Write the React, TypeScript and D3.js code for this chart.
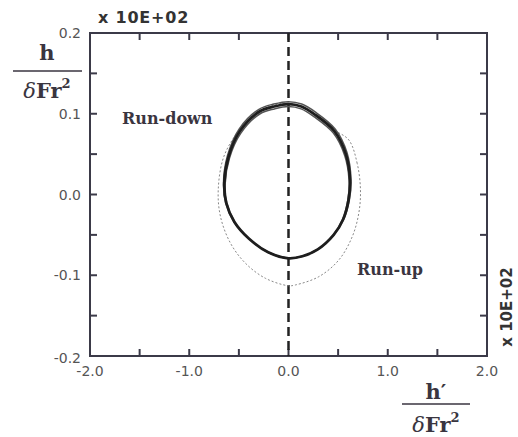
import React from "react";
import * as d3 from "d3";

// loop points (h', h), both in units of 10E+02
const loopMain: [number, number][] = [
  [0.62, 0.018], [0.578, 0.05], [0.462, 0.0786], [0.266, 0.099], [0.13, 0.109],
  [0.0, 0.112], [-0.145, 0.109], [-0.292, 0.1028], [-0.489, 0.0786], [-0.605, 0.0464],
  [-0.647, 0.0139], [-0.627, -0.0105], [-0.545, -0.034], [-0.4, -0.0545], [-0.205, -0.0715],
  [0.0, -0.079], [0.14, -0.0765], [0.295, -0.068], [0.455, -0.05], [0.55, -0.031],
  [0.605, -0.0068],
];
const loopHigh: [number, number][] = [
  [0.63, 0.018], [0.589, 0.052], [0.472, 0.081], [0.272, 0.102], [0.133, 0.112],
  [0.0, 0.115], [-0.148, 0.112], [-0.298, 0.1055], [-0.498, 0.081], [-0.615, 0.048],
  [-0.655, 0.014], [-0.632, -0.011], [-0.547, -0.0345], [-0.4, -0.0545], [-0.205, -0.0715],
  [0.0, -0.079], [0.14, -0.0765], [0.295, -0.068], [0.457, -0.05], [0.555, -0.031],
  [0.613, -0.0068],
];
const loopLow: [number, number][] = [
  [0.61, 0.018], [0.567, 0.048], [0.452, 0.076], [0.26, 0.096], [0.127, 0.106],
  [0.0, 0.109], [-0.142, 0.106], [-0.286, 0.1], [-0.48, 0.076], [-0.595, 0.045],
  [-0.638, 0.0135], [-0.622, -0.0105], [-0.543, -0.034], [-0.4, -0.0545], [-0.205, -0.0715],
  [0.0, -0.079], [0.14, -0.0765], [0.295, -0.068], [0.452, -0.05], [0.545, -0.031],
  [0.598, -0.0068],
];
const loopRunUp: [number, number][] = [
  [0.725, 0.0056], [0.692, 0.0386], [0.608, 0.0675], [0.46, 0.08], [0.262, 0.1],
  [0.0, 0.113], [-0.3, 0.103], [-0.5, 0.079], [-0.652, 0.0468], [-0.708, 0.0056],
  [-0.685, -0.0275], [-0.584, -0.0604], [-0.433, -0.0852], [-0.232, -0.1038], [0.0, -0.113],
  [0.07, -0.112], [0.305, -0.1018], [0.507, -0.0811], [0.642, -0.0523], [0.708, -0.0233],
];

const xTicks = [-2.0, -1.5, -1.0, -0.5, 0.0, 0.5, 1.0, 1.5, 2.0];
const xLabels = [-2.0, -1.0, 0.0, 1.0, 2.0];
const yTicks = [-0.2, -0.15, -0.1, -0.05, 0.0, 0.05, 0.1, 0.15, 0.2];
const yLabels = [-0.2, -0.1, 0.0, 0.1, 0.2];

const W = 518, H = 437;
const L = 90, R = 487, T = 33, B = 356;

export default function App() {
  const x = d3.scaleLinear().domain([-2, 2]).range([L, R]);
  const y = d3.scaleLinear().domain([-0.2, 0.2]).range([B, T]);
  const line = d3.line<[number, number]>()
    .x(d => x(d[0])).y(d => y(d[1]))
    .curve(d3.curveCatmullRomClosed.alpha(0.5));

  const axisColor = "#3b3a48";
  const labelColor = "#555";
  const textColor = "#3a3540";
  const tk = 7;
  const sans = "'DejaVu Sans', Verdana, sans-serif";
  const serif = "'DejaVu Serif', 'Liberation Serif', serif";

  return (
    <svg width={W} height={H} style={{ position: "absolute", left: 0, top: 0, background: "#fff" }}>
      {/* frame */}
      <rect x={L} y={T} width={R - L} height={B - T} fill="none" stroke={axisColor} strokeWidth={2} />
      {xTicks.slice(1, -1).map(v => (
        <g key={"xt" + v} stroke={axisColor} strokeWidth={2}>
          <line x1={x(v)} x2={x(v)} y1={B} y2={B - tk} />
          <line x1={x(v)} x2={x(v)} y1={T} y2={T + tk} />
        </g>
      ))}
      {yTicks.slice(1, -1).map(v => (
        <g key={"yt" + v} stroke={axisColor} strokeWidth={2}>
          <line x1={L} x2={L + tk} y1={y(v)} y2={y(v)} />
          <line x1={R} x2={R - tk} y1={y(v)} y2={y(v)} />
        </g>
      ))}
      {xLabels.map(v => (
        <text key={"xl" + v} x={x(v)} y={B + 20} textAnchor="middle" fontFamily={sans}
          fontSize={14} fill={labelColor}>{v.toFixed(1)}</text>
      ))}
      {yLabels.map(v => (
        <text key={"yl" + v} x={L - 9} y={y(v) + (v === -0.2 ? 7 : 5)} textAnchor="end" fontFamily={sans}
          fontSize={14} fill={labelColor}>{v.toFixed(1)}</text>
      ))}

      {/* dashed zero line */}
      <line x1={x(0)} x2={x(0)} y1={T} y2={B} stroke="#222" strokeWidth={2.5} strokeDasharray="9,5" />

      {/* run-up dotted loop */}
      <path d={line(loopRunUp) ?? ""} fill="none" stroke="#888" strokeWidth={1} strokeDasharray="2,2" />
      {/* run-down loops */}
      <path d={line(loopHigh) ?? ""} fill="none" stroke="#555" strokeWidth={1.5} />
      <path d={line(loopLow) ?? ""} fill="none" stroke="#555" strokeWidth={1.5} />
      <path d={line(loopMain) ?? ""} fill="none" stroke="#1e1e1e" strokeWidth={2.8} />

      <text x={122} y={124} fontFamily={serif} fontWeight="bold" fontSize={16} fill={textColor}>Run-down</text>
      <text x={357} y={275} fontFamily={serif} fontWeight="bold" fontSize={16} fill={textColor}>Run-up</text>

      {/* scale notes */}
      <text x={98} y={23} fontFamily={sans} fontWeight="bold" fontSize={16} letterSpacing={0.8} fill="#333">x 10E+02</text>
      <text transform={`translate(512,307) rotate(-90)`} textAnchor="middle" fontFamily={sans}
        fontWeight="bold" fontSize={15} fill="#333">x 10E+02</text>

      {/* y axis label */}
      <text x={47} y={60} textAnchor="middle" fontFamily={serif} fontWeight="bold" fontSize={21} fill={textColor}>h</text>
      <line x1={13} x2={82} y1={71} y2={71} stroke={textColor} strokeWidth={1.5} />
      <text x={47} y={98} textAnchor="middle" fontFamily={serif} fontWeight="bold" fontSize={21} fill={textColor}>
        <tspan fontStyle="italic" fontWeight="normal">δ</tspan>Fr<tspan fontSize={13} dy={-10}>2</tspan>
      </text>

      {/* x axis label */}
      <text x={436} y={399} textAnchor="middle" fontFamily={serif} fontWeight="bold" fontSize={21} fill={textColor}>h′</text>
      <line x1={402} x2={470} y1={404} y2={404} stroke={textColor} strokeWidth={1.5} />
      <text x={436} y={432} textAnchor="middle" fontFamily={serif} fontWeight="bold" fontSize={21} fill={textColor}>
        <tspan fontStyle="italic" fontWeight="normal">δ</tspan>Fr<tspan fontSize={13} dy={-10}>2</tspan>
      </text>
    </svg>
  );
}
